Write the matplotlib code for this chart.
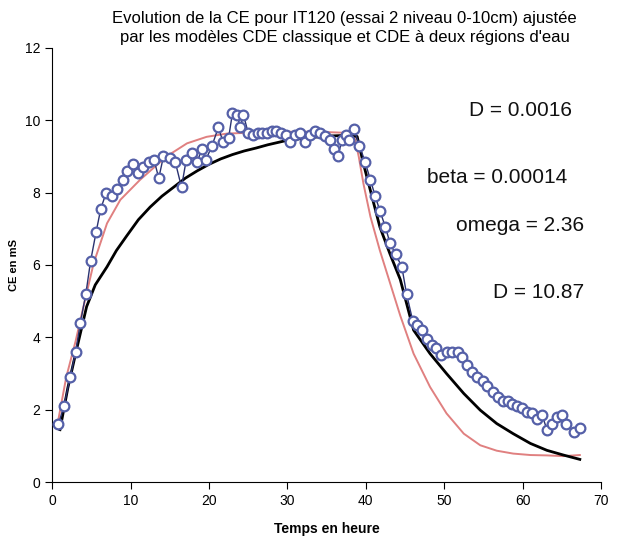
import matplotlib
matplotlib.use("Agg")
import matplotlib.pyplot as plt

plt.rcParams['font.family'] = ['Liberation Sans', 'DejaVu Sans']

# mesures CE (temps en heure, CE en mS)
temps = [0.8, 1.5, 2.3, 3.0, 3.6, 4.3, 4.9, 5.6, 6.2, 6.9, 7.6, 8.3, 9.0, 9.6,
         10.3, 10.9, 11.6, 12.3, 13.0, 13.6, 14.2, 15.0, 15.7, 16.5, 17.1, 17.8,
         18.5, 19.1, 19.6, 20.4, 21.2, 21.8, 22.5, 23.0, 23.6, 24.0, 24.4, 25.0,
         25.6, 26.2, 26.8, 27.4, 28.0, 28.6, 29.2, 29.8, 30.4, 31.0, 31.6, 32.3,
         32.9, 33.5, 34.1, 34.8, 35.5, 35.9, 36.4, 37.0, 37.5, 37.9, 38.5, 39.2,
         39.9, 40.6, 41.2, 41.8, 42.5, 43.1, 43.8, 44.6, 45.2, 46.0, 46.5, 47.2,
         47.8, 48.4, 49.0, 49.6, 50.3, 51.0, 51.7, 52.3, 52.9, 53.5, 54.2, 54.9,
         55.5, 56.2, 56.9, 57.5, 58.1, 58.7, 59.3, 59.9, 60.5, 61.2, 61.8, 62.5,
         63.1, 63.7, 64.4, 65.0, 65.6, 66.5, 67.3]
ce_mesure = [1.6, 2.1, 2.9, 3.6, 4.4, 5.2, 6.1, 6.9, 7.55, 8.0, 7.9, 8.1, 8.35, 8.6,
             8.8, 8.55, 8.7, 8.85, 8.9, 8.4, 9.0, 8.95, 8.85, 8.15, 8.9, 9.1,
             8.85, 9.2, 8.9, 9.3, 9.8, 9.4, 9.5, 10.2, 10.15, 9.8, 10.15, 9.65,
             9.6, 9.65, 9.65, 9.65, 9.7, 9.7, 9.65, 9.6, 9.4, 9.6, 9.65, 9.4,
             9.6, 9.7, 9.65, 9.55, 9.45, 9.2, 9.0, 9.45, 9.6, 9.45, 9.75, 9.3,
             8.85, 8.35, 7.9, 7.5, 7.05, 6.6, 6.3, 5.95, 5.2, 4.45, 4.35, 4.2,
             3.95, 3.8, 3.7, 3.5, 3.6, 3.6, 3.6, 3.45, 3.25, 3.05, 2.9, 2.8,
             2.65, 2.5, 2.35, 2.25, 2.25, 2.15, 2.1, 2.05, 1.95, 1.9, 1.75, 1.85,
             1.45, 1.6, 1.8, 1.85, 1.6, 1.4, 1.5]

# CDE classique (courbe noire)
t_cde = [1.0, 2.0, 3.1, 4.4, 5.5, 7.0, 8.2, 9.5, 11.0, 12.5, 14.0, 15.5, 17.0,
         18.5, 20.0, 21.5, 23.0, 24.5, 26.0, 27.5, 29.5, 32.0, 35.0, 37.5, 38.9,
         39.7, 40.6, 41.8, 43.1, 44.4, 46.1, 48.2, 50.3, 52.5, 54.6, 56.7, 58.8,
         61.0, 63.1, 65.2, 67.3]
ce_cde = [1.45, 2.6, 3.65, 4.85, 5.45, 5.95, 6.4, 6.8, 7.25, 7.6, 7.9, 8.15, 8.4,
          8.6, 8.78, 8.93, 9.05, 9.15, 9.23, 9.32, 9.42, 9.5, 9.56, 9.58, 9.55,
          8.8, 8.05, 7.05, 6.3, 5.6, 4.2, 3.55, 3.0, 2.45, 1.99, 1.62, 1.34,
          1.07, 0.88, 0.75, 0.63]

# CDE a deux regions d'eau (courbe rouge)
t_mim = [0.6, 1.8, 3.0, 4.0, 5.3, 7.0, 8.7, 11.2, 14.6, 17.2, 19.7, 22.3, 26.0,
         30.0, 34.0, 37.5, 38.6, 39.1, 39.7, 40.6, 41.8, 43.1, 44.4, 46.1, 48.2,
         50.3, 52.5, 54.6, 56.7, 58.8, 61.0, 63.1, 65.2, 67.3]
ce_mim = [1.5, 2.9, 3.9, 4.85, 6.05, 7.15, 7.8, 8.35, 9.0, 9.36, 9.54, 9.63, 9.66,
          9.68, 9.68, 9.65, 9.5, 9.0, 8.25, 7.33, 6.4, 5.5, 4.6, 3.55, 2.63,
          1.9, 1.34, 1.02, 0.87, 0.79, 0.75, 0.74, 0.72, 0.75]

params = ["D = 0.0016", "beta = 0.00014", "omega = 2.36", "D = 10.87"]
params_pos = [(59.7, 10.28), (56.8, 8.43), (59.7, 7.1), (62.0, 5.25)]

fig = plt.figure(figsize=(6.28, 5.43), dpi=100)
ax = fig.add_axes([0.083, 0.112, 0.874, 0.80])

ax.plot(t_mim, ce_mim, color='#e08080', lw=1.4, zorder=2)
ax.plot(t_cde, ce_cde, color='black', lw=2.0, zorder=3)
ax.plot(temps, ce_mesure, color='#2a3270', lw=1.0, marker='o', markersize=7,
        markerfacecolor='white', markeredgecolor='#5560a8', markeredgewidth=1.6,
        zorder=4)

for txt, (x, y) in zip(params, params_pos):
    ax.text(x, y, txt, fontsize=15, ha='center', va='center', color='#111111')

ax.set_xlim(0, 70)
ax.set_ylim(0, 12)
ax.set_xticks(range(0, 71, 10))
ax.set_yticks(range(0, 13, 2))
ax.spines['top'].set_visible(False)
ax.spines['right'].set_visible(False)
ax.tick_params(direction='out', length=5, labelsize=10)
ax.set_xlabel("Temps en heure", fontsize=10, fontweight='bold', labelpad=10)
ax.set_ylabel("CE en mS", fontsize=8, fontweight='bold', labelpad=4)

fig.text(0.549, 0.98, "Evolution de la CE pour IT120 (essai 2 niveau 0-10cm) ajustée\n"
         "par les modèles CDE classique et CDE à deux régions d'eau",
         ha='center', va='top', fontsize=12, linespacing=1.35)

fig.savefig("out.png", dpi=100)
